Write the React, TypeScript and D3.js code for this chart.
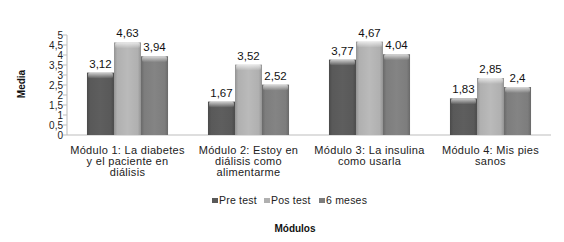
import React from "react";
import * as d3 from "d3";

const categories = [
  ["Módulo 1: La diabetes", "y el paciente en", "diálisis"],
  ["Módulo 2: Estoy en", "diálisis como", "alimentarme"],
  ["Módulo 3: La insulina", "como usarla"],
  ["Módulo 4: Mis pies", "sanos"],
];
const seriesNames = ["Pre test", "Pos test", "6 meses"];
const preTest = [3.12, 1.67, 3.77, 1.83];
const posTest = [4.63, 3.52, 4.67, 2.85];
const seisMeses = [3.94, 2.52, 4.04, 2.4];
const yTicks = [0, 0.5, 1, 1.5, 2, 2.5, 3, 3.5, 4, 4.5, 5];
const yTickLabels = ["0", "0,5", "1", "1,5", "2", "2,5", "3", "3,5", "4", "4,5", "5"];

const colors = ["#595959", "#b0b0b0", "#7d7d7d"];

export default function App() {
  const W = 564, H = 242;
  const left = 67, right = 551, top = 35, bottom = 135;
  const series = [preTest, posTest, seisMeses];
  const x0 = d3.scaleBand<number>().domain(d3.range(categories.length)).range([left, right]).paddingInner(0.33).paddingOuter(0.165);
  const x1 = d3.scaleBand<number>().domain(d3.range(series.length)).range([0, x0.bandwidth()]);
  const y = d3.scaleLinear().domain([0, 5]).range([bottom, top]);
  const fmt = (v: number) => String(v).replace(".", ",");
  const font = "'Liberation Sans', Arial, sans-serif";

  return (
    <svg width={W} height={H} style={{ position: "absolute", left: 0, top: 0 }} fontFamily={font}>
      <defs>
        {colors.map((c, i) => {
          const base = d3.color(c)!;
          return (
            <linearGradient key={i} id={`g${i}`} x1="0" x2="1" y1="0" y2="0">
              <stop offset="0" stopColor={base.darker(0.5).toString()} />
              <stop offset="0.12" stopColor={c} />
              <stop offset="0.5" stopColor={base.brighter(0.15).toString()} />
              <stop offset="0.88" stopColor={c} />
              <stop offset="1" stopColor={base.darker(0.5).toString()} />
            </linearGradient>
          );
        })}
        <linearGradient id="bevel" x1="0" x2="0" y1="0" y2="1">
          <stop offset="0" stopColor="#ffffff" stopOpacity="0.7" />
          <stop offset="0.5" stopColor="#ffffff" stopOpacity="0.35" />
          <stop offset="1" stopColor="#ffffff" stopOpacity="0" />
        </linearGradient>
      </defs>
      <rect width={W} height={H} fill="#fff" />
      {/* y axis */}
      <line x1={left} x2={left} y1={top} y2={bottom} stroke="#bdbdbd" />
      {yTicks.map((t, i) => (
        <g key={i}>
          <line x1={left - 4} x2={left} y1={y(t)} y2={y(t)} stroke="#bdbdbd" />
          <text x={left - 4} y={y(t)} dy="0.35em" textAnchor="end" fontSize={10} fill="#222">
            {yTickLabels[i]}
          </text>
        </g>
      ))}
      <line x1={left} x2={right} y1={bottom} y2={bottom} stroke="#bdbdbd" />
      {/* bars */}
      {categories.map((_, ci) => (
        <g key={ci} transform={`translate(${x0(ci)},0)`}>
          {series.map((s, si) => {
            const bx = x1(si)!;
            const bw = x1.bandwidth();
            const by = y(s[ci]);
            const bh = bottom - by;
            return (
              <g key={si}>
                <rect x={bx} y={by} width={bw} height={bh} fill={`url(#g${si})`} />
                <rect x={bx + 1} y={by} width={bw - 2} height={Math.min(6, bh)} fill="url(#bevel)" rx={2} />
                <text x={bx + bw / 2} y={by - 5} textAnchor="middle" fontSize={11.5} fill="#111">
                  {fmt(s[ci])}
                </text>
              </g>
            );
          })}
        </g>
      ))}
      {/* category labels */}
      {categories.map((lines, ci) => (
        <text key={ci} x={x0(ci)! + x0.bandwidth() / 2} y={154} textAnchor="middle" fontSize={11} letterSpacing={0.3} fill="#222">
          {lines.map((l, li) => (
            <tspan key={li} x={x0(ci)! + x0.bandwidth() / 2} dy={li === 0 ? 0 : 11}>
              {l}
            </tspan>
          ))}
        </text>
      ))}
      {/* legend */}
      {seriesNames.map((n, i) => {
        const lx = [212, 264, 319][i];
        return (
          <g key={i}>
            <rect x={lx} y={198} width={6} height={5} fill={colors[i]} />
            <text x={lx + 7} y={204} fontSize={10.5} letterSpacing={0.2} fill="#222">{n}</text>
          </g>
        );
      })}
      <text x={295} y={232} textAnchor="middle" fontSize={10} fontWeight="bold" fill="#111">Módulos</text>
      <text transform={`translate(25,84) rotate(-90)`} textAnchor="middle" fontSize={10} fontWeight="bold" fill="#111">Media</text>
    </svg>
  );
}
